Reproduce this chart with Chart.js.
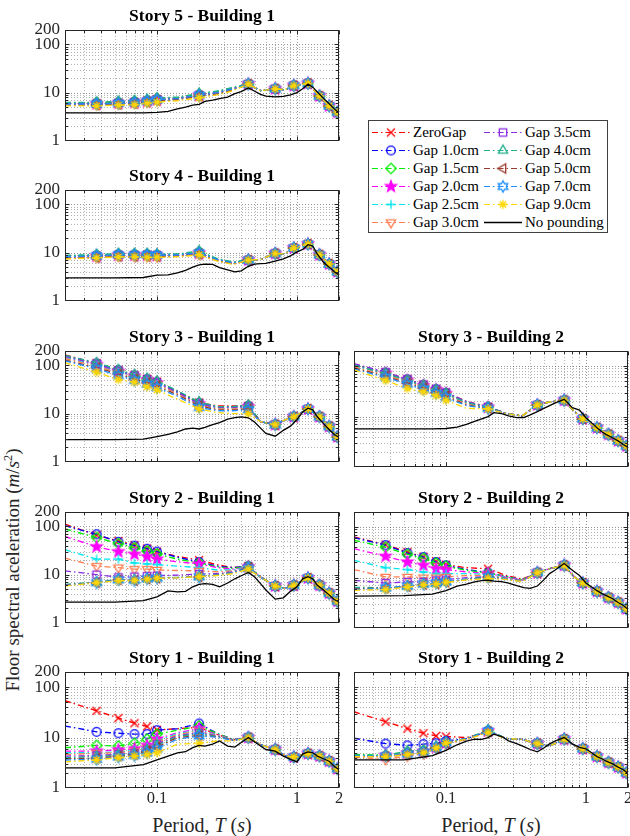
<!DOCTYPE html>
<html>
<head>
<meta charset="utf-8">
<script src="https://cdn.jsdelivr.net/npm/chart.js@4.4.0/dist/chart.umd.min.js"></script>
<style>
    html, body { margin: 0; padding: 0; background: #fff; }
    body { width: 630px; height: 836px; position: relative; overflow: hidden; font-family: "Liberation Serif", "Times New Roman", serif; color: #262626; }
    canvas.panel { position: absolute; }
    .ylabel { position: absolute; left: 13px; top: 570px; transform: translate(-50%, -50%) rotate(-90deg); white-space: nowrap; font-size: 19px; }
    .xlabel { position: absolute; top: 825px; transform: translate(-50%, -50%); white-space: nowrap; font-size: 20px; }
    sup { font-size: 0.65em; vertical-align: 0.55em; line-height: 0; }
    #legend { position: absolute; left: 368px; top: 120px; width: 240px; height: 113px; border: 1px solid #404040; box-sizing: border-box; background: #fff; }
    #legend canvas { position: absolute; }
    #legend span { position: absolute; font-size: 15px; line-height: 18px; color: #000; white-space: nowrap; }
</style>
</head>
<body>
<div class="ylabel">Floor spectral aceleration (<i>m</i>/<i>s</i><sup>2</sup>)</div>
<div class="xlabel" style="left: 202px;">Period, <i>T</i> (<i>s</i>)</div>
<div class="xlabel" style="left: 491px;">Period, <i>T</i> (<i>s</i>)</div>
<div id="legend"></div>
<script>
const seriesNames = ['ZeroGap', 'Gap 1.0cm', 'Gap 1.5cm', 'Gap 2.0cm', 'Gap 2.5cm', 'Gap 3.0cm',
    'Gap 3.5cm', 'Gap 4.0cm', 'Gap 5.0cm', 'Gap 7.0cm', 'Gap 9.0cm'];
const seriesColors = ['#ff0000', '#0000ff', '#00ee00', '#ff00ff', '#00e5ee', '#ff7f50',
    '#8a2be2', '#20b08a', '#9b3b30', '#1e90ff', '#ffd700'];
const seriesMarkers = ['x', 'o', 'diamond', 'pentagram', 'plus', 'triDown',
    'square', 'triUp', 'triLeft', 'hexagram', 'asterisk'];

// periods (s) of the gap curves and of the no pounding curve
const gapPeriods = [0.022, 0.037, 0.053, 0.069, 0.085, 0.1, 0.14, 0.2, 0.27, 0.35,
    0.45, 0.55, 0.7, 0.82, 0.95, 1.2, 1.45, 1.7, 1.95, 2.0];
const markerIndex = [1, 2, 3, 4, 5, 7, 10, 12, 14, 15, 16, 17, 18];
const noPoundingPeriods = [0.022, 0.05, 0.08, 0.1, 0.12, 0.14, 0.16, 0.18, 0.2, 0.22, 0.25,
    0.28, 0.32, 0.36, 0.4, 0.45, 0.5, 0.55, 0.6, 0.7, 0.8, 0.9, 1.0, 1.1, 1.2, 1.3, 1.4,
    1.55, 1.7, 1.85, 2.0];

const xLabelTicks = [0.1, 1, 2];
const xGridTicks = [0.03, 0.04, 0.05, 0.06, 0.07, 0.08, 0.09, 0.1, 0.2, 0.3, 0.4, 0.5, 0.6, 0.7, 0.8, 0.9, 1, 2];
const yLabelTicks = [1, 10, 100, 200];
const yGridTicks = [2, 3, 4, 5, 6, 7, 8, 9, 10, 20, 30, 40, 50, 60, 70, 80, 90, 100];

// Story 5 - Building 1 (heads: one row per series, then a common tail)
const s5b1Heads = [
    [5.9, 5.9, 6.1, 6.3, 6.7, 7.2, 7.6, 8.8, 10.0, 12.0],
    [6.0, 6.0, 6.2, 6.4, 6.8, 7.3, 7.7, 9.0, 10.2, 12.3],
    [6.2, 6.2, 6.4, 6.6, 7.0, 7.5, 7.9, 9.3, 10.5, 12.6],
    [5.8, 5.8, 6.0, 6.2, 6.6, 7.1, 7.5, 8.7, 9.9, 11.9],
    [5.6, 5.6, 5.8, 6.0, 6.4, 6.9, 7.3, 8.5, 9.7, 11.7],
    [5.7, 5.7, 5.9, 6.1, 6.5, 7.0, 7.4, 8.6, 9.8, 11.8],
    [5.9, 5.9, 6.1, 6.3, 6.7, 7.2, 7.6, 8.9, 10.1, 12.1],
    [6.3, 6.3, 6.6, 6.8, 7.2, 7.7, 8.1, 9.6, 10.8, 12.9],
    [5.5, 5.5, 5.7, 5.9, 6.3, 6.8, 7.2, 8.4, 9.5, 11.5],
    [5.8, 5.8, 6.0, 6.2, 6.6, 7.1, 7.5, 8.8, 10.0, 12.0],
    [5.3, 5.3, 5.5, 5.6, 6.0, 6.3, 6.8, 7.8, 9.0, 11.0]
];
const s5b1Tail = [15, 11, 12, 11.5, 14, 15.5, 8.5, 5.3, 3.9, 3.7];
const s5b1NoPounding = [3.8, 3.8, 3.8, 3.9, 4.1, 4.6, 5.0, 5.5, 5.7, 6.6, 7.0, 7.5, 8.1, 9.5, 10.5,
    12.5, 10.7, 9.2, 8.5, 8.2, 8.4, 9.0, 10, 12, 15, 13, 10.3, 7.6, 5.9, 4.6, 3.8];

// Story 4 - Building 1
const s4b1Heads = [
    [8.2, 8.5, 8.9, 8.9, 8.9, 8.8, 8.9, 9.8, 7.2, 6.1],
    [8.4, 8.7, 9.1, 9.1, 9.1, 9.0, 9.1, 10.1, 7.3, 6.2],
    [8.6, 8.9, 9.3, 9.3, 9.3, 9.1, 9.2, 10.4, 7.4, 6.3],
    [8.0, 8.4, 8.8, 8.8, 8.8, 8.7, 8.8, 9.7, 7.1, 6.0],
    [7.8, 8.2, 8.6, 8.6, 8.6, 8.5, 8.6, 9.5, 7.0, 5.9],
    [7.6, 8.0, 8.4, 8.4, 8.4, 8.3, 8.5, 9.3, 6.9, 5.8],
    [8.1, 8.5, 8.9, 8.9, 8.9, 8.8, 8.9, 9.6, 7.1, 6.0],
    [8.8, 9.1, 9.5, 9.5, 9.5, 9.3, 9.4, 10.8, 7.5, 6.4],
    [7.5, 7.9, 8.3, 8.3, 8.3, 8.2, 8.4, 9.2, 6.8, 5.8],
    [8.3, 8.6, 9.0, 9.0, 9.0, 8.9, 9.0, 9.9, 7.2, 6.1],
    [7.4, 7.8, 8.1, 8.2, 8.0, 8.0, 8.2, 9.0, 6.7, 5.7]
];
const s4b1Tail = [7.0, 7.2, 9.6, 9.4, 12.5, 15, 9, 5.8, 4.0, 3.8];
const s4b1NoPounding = [3.0, 3.0, 3.05, 3.4, 3.45, 3.8, 4.3, 5.0, 5.6, 5.8, 5.7, 4.9, 4.4, 4.0, 4.2,
    5.2, 5.8, 5.9, 6.0, 6.7, 7.4, 8.6, 10.3, 11.7, 14.6, 13.7, 9.3, 6.3, 5.0, 4.0, 3.45];

// Story 3 - Building 1
const s3b1Heads = [
    [165, 112, 80, 63, 53, 46, 29, 17, 14.5, 14.5, 14.5],
    [160, 110, 79, 62, 52, 45, 28.5, 16.5, 14, 14, 14.5],
    [155, 108, 77, 61, 51, 44, 28, 16.5, 14, 14, 14.5],
    [150, 104, 75, 59, 50, 43, 27.5, 16, 13.5, 13.5, 14],
    [145, 100, 73, 58, 49, 42, 27, 15.5, 13, 13, 13.5],
    [140, 97, 70, 56, 47, 41, 26, 15, 12.5, 12.5, 13],
    [158, 108, 78, 61, 51, 44, 28, 16, 13.5, 13.5, 14],
    [162, 114, 82, 64, 54, 47, 30, 17.5, 14, 14, 15],
    [130, 90, 66, 52, 44, 38, 24.5, 14.5, 12, 12, 12.5],
    [125, 86, 62, 49, 41, 35, 23, 13.5, 11.5, 11.5, 12],
    [115, 72, 51, 45, 36, 31, 20, 12.5, 10.5, 10, 10]
];
const s3b1Tail = [6.8, 5.9, 7.4, 8.6, 12.5, 8.6, 5.4, 3.3, 3.1];
const s3b1NoPounding = [2.9, 2.9, 2.95, 3.35, 3.7, 4.2, 4.8, 5.0, 4.8, 5.2, 5.9, 6.5, 7.7, 8.3, 8.6,
    8.2, 6.6, 5.0, 3.9, 3.4, 4.5, 5.5, 7.5, 10.8, 13, 12, 8.6, 6.2, 4.7, 3.7, 3.2];

// Story 3 - Building 2
const s3b2Heads = [
    [110, 75, 55, 43, 35, 30, 20, 15.5],
    [108, 74, 54, 42, 35, 29.5, 19.5, 15.5],
    [106, 73, 53, 42, 34, 29, 19.5, 15.3],
    [104, 72, 52, 41, 34, 28.5, 19, 15.2],
    [100, 69, 50, 40, 33, 28, 18.5, 15],
    [97, 67, 49, 39, 32, 27, 18, 14.8],
    [112, 76, 55, 43, 35, 30, 20, 15.5],
    [105, 72, 52, 41, 34, 28.5, 19, 15.3],
    [92, 63, 46, 37, 30, 25.5, 17, 14.6],
    [88, 60, 44, 35, 29, 24, 16.5, 14.5],
    [84, 52, 36, 31, 26, 21, 14.6, 14.2]
];
const s3b2Tail = [11.5, 10.3, 17, 19.5, 21, 13, 9, 6, 4.4, 3.3, 2.6, 2.5];
const s3b2NoPounding = [5.7, 5.7, 5.7, 5.8, 6.2, 7.0, 8.0, 9.0, 10.0, 12.0, 11.5, 10.3, 9.5, 9.6, 10.8,
    12.5, 14.5, 16.5, 18.5, 22, 15, 13.5, 9.5, 7.5, 6.0, 5.0, 4.4, 3.8, 3.3, 2.8, 2.45];

// Story 2 - Building 1
const s2b1Heads = [
    [112, 66, 50, 41, 35, 30, 24, 20, 16, 14, 15],
    [104, 69, 48, 40, 34.5, 30, 23, 18.3, 15, 14, 15],
    [89, 59, 44, 36, 31, 27, 21, 17.5, 14.5, 13.5, 15],
    [62, 38, 30, 26.5, 23.7, 21, 18.5, 16.7, 14, 13, 14.5],
    [33, 21, 21, 17.5, 16.7, 16.2, 15, 14, 12.5, 12.5, 14.5],
    [22, 15, 14, 13, 13, 12.5, 12.2, 12, 11.5, 12, 14],
    [12, 10, 8.8, 9.1, 9.3, 9.5, 9.8, 10.3, 10.5, 11.5, 14],
    [6.3, 7.0, 8.0, 7.7, 8.3, 8.6, 8.8, 9.2, 10, 11, 14],
    [6.1, 6.8, 7.8, 7.5, 8.1, 8.4, 8.7, 9.0, 9.8, 11, 13.5],
    [6.0, 6.8, 7.8, 7.6, 8.2, 8.5, 8.7, 9.0, 9.8, 11, 13.5],
    [5.8, 6.8, 7.5, 7.6, 8.0, 8.4, 8.6, 9.1, 9.6, 10.5, 13]
];
const s2b1Tail = [8.9, 5.8, 5.2, 6.0, 8.5, 6.0, 4.1, 2.8, 2.7];
const s2b1NoPounding = [2.7, 2.7, 2.9, 3.45, 4.6, 4.4, 4.5, 5.6, 6.3, 6.5, 6.3, 5.6, 6.7, 8.2, 9.5,
    11.1, 8.9, 6.5, 4.8, 3.1, 3.3, 4.5, 5.6, 8.2, 9.1, 8.2, 6.0, 4.8, 3.8, 3.05, 2.7];

// Story 2 - Building 2
const s2b2Heads = [
    [64, 45, 32, 26, 21, 18, 15.7, 15, 11, 9.3],
    [62, 44, 30.6, 25.5, 20.4, 17.5, 14.5, 12.5, 10.5, 9.0],
    [55, 40, 29, 24, 19.5, 16.8, 14, 12.3, 10.5, 9.0],
    [37.5, 26.5, 20.4, 17.5, 15, 14.4, 13, 12, 10.3, 8.9],
    [22, 15.7, 14.4, 12.9, 12, 12, 12, 11.5, 10, 8.8],
    [14.4, 10.3, 10.3, 10, 10, 10.3, 11, 11, 9.8, 8.7],
    [8.8, 7.8, 8.2, 8.2, 8.8, 9.1, 10, 10.5, 9.6, 8.6],
    [6.4, 6.3, 6.7, 7.4, 7.6, 8.2, 9.3, 10.5, 9.5, 8.5],
    [6.0, 6.2, 6.6, 7.3, 7.5, 8.1, 9.2, 10.2, 9.4, 8.4],
    [5.8, 6.2, 6.8, 7.4, 7.8, 8.3, 9.3, 10.2, 9.4, 8.4],
    [5.6, 5.8, 6.5, 7.2, 7.4, 8.0, 9.0, 9.6, 9.2, 8.3]
];
const s2b2Tail = [12.5, 15, 17.5, 10.5, 7.8, 5.3, 4.0, 3.2, 2.4, 2.3];
const s2b2NoPounding = [4.3, 4.4, 4.7, 5.5, 6.8, 7.4, 8.2, 8.7, 8.9, 8.5, 8.3, 7.8, 6.9, 6.3, 6.1,
    6.8, 9.0, 12, 14, 19, 14, 11, 7.8, 6.5, 5.5, 4.8, 4.4, 3.8, 3.2, 2.8, 2.35];

// Story 1 - Building 1
const s1b1Heads = [
    [54, 34, 24.4, 19.3, 16.6, 14.2, 15, 16, 11.5, 9.0],
    [17, 13, 12.2, 11.7, 11.7, 14, 15, 19, 12, 9.2],
    [6.3, 7.0, 6.8, 7.7, 9.3, 11.7, 14, 17, 12, 9.1],
    [5.4, 5.4, 5.7, 6.0, 7.0, 9.3, 12.5, 15, 11.5, 9.0],
    [5.0, 5.0, 5.2, 5.6, 6.5, 8.6, 12, 14, 11.2, 9.0],
    [4.6, 4.9, 5.0, 5.4, 6.2, 8.0, 11.5, 13.5, 11, 9.0],
    [4.3, 4.4, 4.7, 5.0, 5.8, 7.4, 11, 12.5, 10.8, 8.9],
    [4.0, 4.2, 4.5, 4.8, 5.6, 7.0, 10.5, 12, 10.6, 8.9],
    [3.8, 3.9, 4.3, 4.6, 5.4, 6.5, 10, 11, 10.4, 8.8],
    [3.6, 3.7, 4.1, 4.4, 5.0, 6.0, 9.3, 10.8, 10.2, 8.8],
    [3.3, 3.6, 4.0, 4.3, 4.6, 5.0, 7.4, 7.7, 8.6, 8.6]
];
const s1b1Tail = [10, 7.2, 5.8, 4.4, 4.1, 4.8, 4.3, 3.4, 2.4, 2.3];
const s1b1NoPounding = [2.5, 2.5, 2.9, 3.6, 4.3, 5.0, 5.25, 6.3, 7.0, 6.8, 7.4, 8.6, 6.8, 6.5, 8.0,
    10, 8.2, 6.8, 5.8, 5.4, 4.3, 3.7, 3.3, 4.7, 5.2, 5.0, 4.3, 3.8, 3.4, 2.7, 2.3];

// Story 1 - Building 2
const s1b2Heads = [
    [32.6, 20.6, 15.1, 12.2, 10.8, 10.5, 10, 13],
    [9.7, 7.6, 7.0, 7.4, 7.7, 8.6, 9.5, 13.5],
    [4.6, 4.5, 5.2, 5.6, 6.6, 8.0, 9.5, 14],
    [4.4, 4.4, 4.9, 5.3, 6.4, 7.8, 9.4, 13.5],
    [4.3, 4.3, 4.8, 5.1, 6.2, 7.7, 9.3, 13.2],
    [4.1, 3.7, 4.3, 4.8, 6.0, 7.5, 9.2, 13],
    [4.3, 4.3, 4.7, 5.1, 6.3, 7.8, 9.4, 13.4],
    [4.5, 4.4, 5.4, 5.5, 6.6, 8.0, 9.5, 14],
    [4.2, 4.2, 4.6, 5.0, 6.2, 7.7, 9.3, 13.2],
    [4.3, 4.3, 4.7, 5.1, 6.3, 7.9, 9.4, 13.5],
    [4.2, 4.2, 4.6, 5.0, 6.2, 7.8, 9.3, 12.6]
];
const s1b2Tail = [9.6, 9.2, 7.6, 6.8, 9.3, 7.0, 6.0, 4.2, 3.2, 2.6, 2.0, 1.95];
const s1b2NoPounding = [3.6, 3.6, 4.4, 5.6, 7.2, 8.5, 9.3, 9.2, 10, 11.7, 10.5, 8.6, 7.6, 6.6, 5.8,
    5.2, 6.2, 7.5, 8.5, 10, 7.5, 6.4, 6.0, 5.0, 4.2, 3.8, 3.4, 3.0, 2.6, 2.3, 1.95];

const panels = [
    {title: 'Story 5 - Building 1', row: 0, col: 0, heads: s5b1Heads, tail: s5b1Tail, noPounding: s5b1NoPounding},
    {title: 'Story 4 - Building 1', row: 1, col: 0, heads: s4b1Heads, tail: s4b1Tail, noPounding: s4b1NoPounding},
    {title: 'Story 3 - Building 1', row: 2, col: 0, heads: s3b1Heads, tail: s3b1Tail, noPounding: s3b1NoPounding},
    {title: 'Story 3 - Building 2', row: 2, col: 1, heads: s3b2Heads, tail: s3b2Tail, noPounding: s3b2NoPounding},
    {title: 'Story 2 - Building 1', row: 3, col: 0, heads: s2b1Heads, tail: s2b1Tail, noPounding: s2b1NoPounding},
    {title: 'Story 2 - Building 2', row: 3, col: 1, heads: s2b2Heads, tail: s2b2Tail, noPounding: s2b2NoPounding},
    {title: 'Story 1 - Building 1', row: 4, col: 0, heads: s1b1Heads, tail: s1b1Tail, noPounding: s1b1NoPounding},
    {title: 'Story 1 - Building 2', row: 4, col: 1, heads: s1b2Heads, tail: s1b2Tail, noPounding: s1b2NoPounding}
];

const plotTops = [30, 190, 351, 512, 672];
const fontFamily = '"Liberation Serif", "Times New Roman", serif';
const lineDash = [6, 3, 1.5, 3];

function polygon(g, cx, cy, radii, count, startDeg) {
    for (let k = 0; k < count; k++) {
        const a = (startDeg + k * 360 / count) * Math.PI / 180;
        const r = radii[k % radii.length];
        const px = cx + r * Math.cos(a);
        const py = cy + r * Math.sin(a);
        k === 0 ? g.moveTo(px, py) : g.lineTo(px, py);
    }
    g.closePath();
}

function makeMarker(shape, color) {
    const c = document.createElement('canvas');
    c.width = 16;
    c.height = 16;
    const g = c.getContext('2d');
    const m = 8;
    g.strokeStyle = color;
    g.fillStyle = color;
    g.lineWidth = 1.3;
    g.beginPath();

    if ('x' === shape) {
        g.moveTo(m - 4, m - 4); g.lineTo(m + 4, m + 4);
        g.moveTo(m + 4, m - 4); g.lineTo(m - 4, m + 4);
    } else if ('o' === shape) {
        g.arc(m, m, 4.3, 0, Math.PI * 2);
    } else if ('diamond' === shape) {
        polygon(g, m, m, [5.2], 4, -90);
    } else if ('pentagram' === shape) {
        polygon(g, m, m, [5.8, 2.4], 10, -90);
        g.fill();
    } else if ('plus' === shape) {
        g.moveTo(m - 4.5, m); g.lineTo(m + 4.5, m);
        g.moveTo(m, m - 4.5); g.lineTo(m, m + 4.5);
    } else if ('triDown' === shape) {
        polygon(g, m, m, [5.4], 3, 90);
    } else if ('square' === shape) {
        g.rect(m - 3.7, m - 3.7, 7.4, 7.4);
    } else if ('triUp' === shape) {
        polygon(g, m, m, [5.4], 3, -90);
    } else if ('triLeft' === shape) {
        polygon(g, m, m, [5.4], 3, 180);
    } else if ('hexagram' === shape) {
        polygon(g, m, m, [5.6, 3.2], 12, -90);
    } else if ('asterisk' === shape) {
        g.moveTo(m - 4.5, m); g.lineTo(m + 4.5, m);
        g.moveTo(m, m - 4.5); g.lineTo(m, m + 4.5);
        g.moveTo(m - 3.2, m - 3.2); g.lineTo(m + 3.2, m + 3.2);
        g.moveTo(m + 3.2, m - 3.2); g.lineTo(m - 3.2, m + 3.2);
    }

    g.stroke();
    return c;
}

const markerImages = seriesMarkers.map((shape, i) => makeMarker(shape, seriesColors[i]));

const framePlugin = {
    id: 'frame',
    beforeDatasetsDraw(chart) {
        const {ctx, chartArea: a, scales: {x, y}} = chart;
        ctx.save();
        ctx.lineWidth = 1;
        ctx.setLineDash([1, 2]);

        xGridTicks.forEach(v => {
            const px = Math.round(x.getPixelForValue(v)) + 0.5;
            ctx.strokeStyle = (v === 0.1 || v === 1) ? 'rgba(0,0,0,0.42)' : 'rgba(0,0,0,0.3)';
            ctx.beginPath();
            ctx.moveTo(px, a.top);
            ctx.lineTo(px, a.bottom);
            ctx.stroke();
        });

        yGridTicks.forEach(v => {
            const py = Math.round(y.getPixelForValue(v)) + 0.5;
            ctx.strokeStyle = (v === 10 || v === 100) ? 'rgba(0,0,0,0.42)' : 'rgba(0,0,0,0.3)';
            ctx.beginPath();
            ctx.moveTo(a.left, py);
            ctx.lineTo(a.right, py);
            ctx.stroke();
        });

        ctx.restore();
    },
    afterDatasetsDraw(chart) {
        const {ctx, chartArea: a, scales: {x, y}} = chart;
        const left = Math.round(a.left) + 0.5;
        const right = Math.round(a.right) - 0.5;
        const top = Math.round(a.top) + 0.5;
        const bottom = Math.round(a.bottom) - 0.5;

        ctx.save();
        ctx.strokeStyle = '#262626';
        ctx.lineWidth = 1;
        ctx.beginPath();

        xGridTicks.forEach(v => {
            const px = Math.round(x.getPixelForValue(v)) + 0.5;
            const len = xLabelTicks.includes(v) ? 4 : 2.5;
            ctx.moveTo(px, bottom); ctx.lineTo(px, bottom - len);
            ctx.moveTo(px, top); ctx.lineTo(px, top + len);
        });

        yGridTicks.forEach(v => {
            const py = Math.round(y.getPixelForValue(v)) + 0.5;
            const len = yLabelTicks.includes(v) ? 4 : 2.5;
            ctx.moveTo(left, py); ctx.lineTo(left + len, py);
            ctx.moveTo(right, py); ctx.lineTo(right - len, py);
        });

        ctx.stroke();
        ctx.strokeRect(left, top, right - left, bottom - top);
        ctx.restore();
    }
};

function buildPanel(panel) {
    const isLeft = 0 === panel.col;
    const isBottom = 4 === panel.row;
    const canvas = document.createElement('canvas');

    canvas.className = 'panel';
    canvas.width = isLeft ? 330 : 284;
    canvas.height = isBottom ? 170 : 156;
    canvas.style.left = (isLeft ? 15 : 350) + 'px';
    canvas.style.top = (plotTops[panel.row] - 30) + 'px';
    document.body.appendChild(canvas);

    const datasets = seriesNames.map((name, i) => {
        const values = panel.heads[i].concat(panel.tail);

        return {
            label: name,
            data: gapPeriods.map((t, k) => ({x: t, y: values[k]})),
            borderColor: seriesColors[i],
            borderWidth: 1.35,
            borderDash: lineDash,
            pointStyle: markerImages[i],
            pointRadius: gapPeriods.map((t, k) => markerIndex.includes(k) ? 4 : 0),
            pointHoverRadius: 0,
            fill: false,
            tension: 0,
            order: seriesNames.length - i + 1
        };
    });

    datasets.push({
        label: 'No pounding',
        data: noPoundingPeriods.map((t, k) => ({x: t, y: panel.noPounding[k]})),
        borderColor: '#000000',
        borderWidth: 1.3,
        pointRadius: 0,
        fill: false,
        tension: 0,
        order: 0
    });

    new Chart(canvas, {
        type: 'line',
        data: {datasets: datasets},
        options: {
            responsive: false,
            animation: false,
            devicePixelRatio: 1,
            layout: {
                padding: {top: 0, left: 0, right: 6, bottom: isBottom ? 2 : 10}
            },
            plugins: {
                legend: {display: false},
                tooltip: {enabled: false},
                title: {
                    display: true,
                    text: panel.title,
                    fullSize: false,
                    color: '#000000',
                    font: {family: fontFamily, size: 17.5, weight: 'bold', lineHeight: '20px'},
                    padding: {top: 6, bottom: 4}
                }
            },
            scales: {
                x: {
                    type: 'logarithmic',
                    min: 0.022,
                    max: 2,
                    grid: {display: false, drawTicks: false},
                    border: {display: false},
                    ticks: {
                        display: isBottom,
                        autoSkip: false,
                        maxRotation: 0,
                        padding: 1,
                        color: '#262626',
                        font: {family: fontFamily, size: 16.5},
                        callback: v => String(v)
                    },
                    afterBuildTicks: scale => {
                        scale.ticks = xLabelTicks.map(v => ({value: v}));
                    },
                    afterFit: scale => {
                        scale.height = isBottom ? 22 : 0;
                    }
                },
                y: {
                    type: 'logarithmic',
                    min: 1,
                    max: 200,
                    grid: {display: false, drawTicks: false},
                    border: {display: false},
                    ticks: {
                        display: isLeft,
                        autoSkip: false,
                        padding: 5,
                        color: '#262626',
                        font: {family: fontFamily, size: 17},
                        callback: v => String(v)
                    },
                    afterBuildTicks: scale => {
                        scale.ticks = yLabelTicks.map(v => ({value: v}));
                    },
                    afterFit: scale => {
                        scale.width = isLeft ? 50 : 4;
                    }
                }
            }
        },
        plugins: [framePlugin]
    });
}

function buildLegend() {
    const legend = document.getElementById('legend');
    const names = seriesNames.concat(['No pounding']);
    const rowPitch = 17.9;

    names.forEach((name, i) => {
        const col = i < 6 ? 0 : 1;
        const row = i % 6;
        const centerY = 11.2 + row * rowPitch;
        const swatch = document.createElement('canvas');
        swatch.width = 40;
        swatch.height = 16;
        swatch.style.left = (col ? 114 : 2) + 'px';
        swatch.style.top = (centerY - 8) + 'px';

        const g = swatch.getContext('2d');
        g.lineWidth = 1.2;
        if (i < seriesNames.length) {
            g.strokeStyle = seriesColors[i];
            g.setLineDash(lineDash);
        } else {
            g.strokeStyle = '#000000';
            g.lineWidth = 1.3;
        }
        g.beginPath();
        g.moveTo(1, 8.5);
        g.lineTo(39, 8.5);
        g.stroke();
        if (i < seriesNames.length) {
            g.drawImage(markerImages[i], 12, 0.5);
        }
        legend.appendChild(swatch);

        const label = document.createElement('span');
        label.textContent = name;
        label.style.left = (col ? 156 : 44) + 'px';
        label.style.top = (centerY - 9) + 'px';
        legend.appendChild(label);
    });
}

panels.forEach(buildPanel);
buildLegend();
</script>
</body>
</html>
